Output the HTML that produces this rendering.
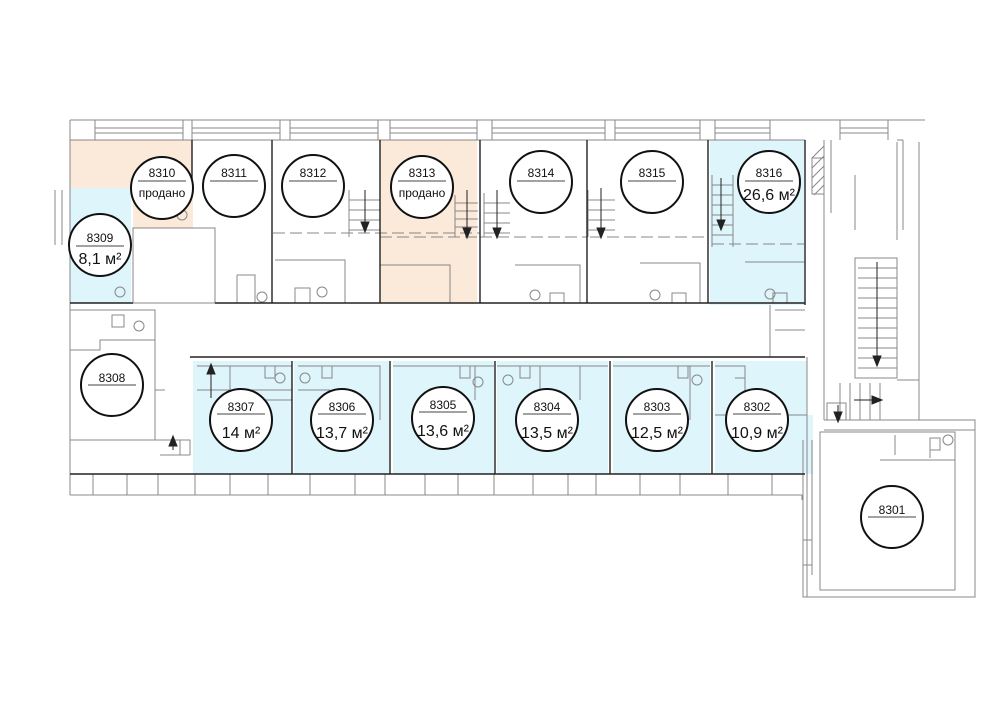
<!DOCTYPE html>
<html><head><meta charset="utf-8"><style>
html,body{margin:0;padding:0;background:#fff}
svg{display:block}
text{font-family:"Liberation Sans",sans-serif;fill:#111}
</style></head><body>
<svg width="1008" height="709" viewBox="0 0 1008 709" xmlns="http://www.w3.org/2000/svg">
<g stroke="none">
<rect x="70" y="140" width="122" height="48" fill="#fbe9d9"/>
<rect x="133" y="188" width="60" height="40" fill="#fbe9d9"/>
<rect x="70" y="188" width="61" height="115" fill="#ddf5fb"/>
<rect x="380" y="140" width="97" height="163" fill="#fbe9d9"/>
<rect x="710" y="140" width="94" height="165" fill="#ddf5fb"/>
<rect x="193" y="361" width="99" height="113" fill="#ddf5fb"/>
<rect x="294" y="361" width="95" height="113" fill="#ddf5fb"/>
<rect x="393" y="361" width="101" height="113" fill="#ddf5fb"/>
<rect x="497" y="361" width="111" height="113" fill="#ddf5fb"/>
<rect x="613" y="361" width="97" height="113" fill="#ddf5fb"/>
<rect x="715" y="361" width="92" height="113" fill="#ddf5fb"/>
<rect x="807" y="415" width="6" height="59" fill="#ddf5fb"/>
</g>
<g stroke="#888" stroke-width="1" fill="none">
<path d="M70 120H925M70 140H805M70 120V495M55 190V245M62 190V245"/>
<path d="M95 120V140M183 120V140M95 128H183M95 133H183"/>
<path d="M192 120V140M280 120V140M192 128H280M192 133H280"/>
<path d="M290 120V140M378 120V140M290 128H378M290 133H378"/>
<path d="M390 120V140M477 120V140M390 128H477M390 133H477"/>
<path d="M492 120V140M605 120V140M492 128H605M492 133H605"/>
<path d="M615 120V140M700 120V140M615 128H700M615 133H700"/>
<path d="M715 120V140M770 120V140M715 128H770M715 133H770"/>
<path d="M840 120V140M888 120V140M840 128H888M840 133H888"/>
<path d="M70 495H802M802 495V500"/>
<path d="M93 474V495M127 474V495M158 474V495M195 474V495M230 474V495M268 474V495M310 474V495M355 474V495M385 474V495M425 474V495M458 474V495M494 474V495M533 474V495M568 474V495M596 474V495M640 474V495M680 474V495M728 474V495M772 474V495"/>
<rect x="133" y="228" width="82" height="75"/>
<path d="M824 140V420M831 140V213M897 142V240M919 142V420H975V597H803V440M807 440V597M812 440V575M897 140H903M903 140V230"/>
<rect x="855" y="258" width="42" height="120"/>
<path d="M858 268H897M858 278H897M858 288H897M858 298H897M858 308H897M858 318H897M858 328H897M858 338H897M858 348H897M858 358H897M858 368H897"/>
<path d="M824 420H975M824 430H975M840 383V420M850 383V420M860 383V420M870 383V420M880 383V420M897 380H919"/>
<rect x="827" y="403" width="19" height="17"/>
<path d="M820 432H955V590H820ZM895 435V455M880 460H955M930 445V458"/>
<path d="M803 540H812M803 565H812"/>
<rect x="70" y="310" width="85" height="130"/>
<path d="M70 350H100V340H155M155 390H165M70 440H190V455M160 455H190"/>
<rect x="112" y="315" width="12" height="12"/>
<circle cx="139" cy="326" r="5"/>
<path d="M237 275H255V303M237 275V303M275 260H345V303M380 265H450V303M515 265H580V303M640 263H700V303M745 262H804"/>
<path d="M273 233H480M380 237H477M480 237H587M590 237H708M712 244H804" stroke-dasharray="12 5"/>
<path d="M349 190V237M349 200H380M349 210H380M349 220H380M349 230H380M455 195V237M455 203H478M455 211H478M455 219H478M455 227H478M484 193V237M484 203H510M484 213H510M484 223H510M484 233H510M588 190V237M588 200H615M588 210H615M588 220H615M588 230H615M712 175V247M712 185H733M712 195H733M712 205H733M712 215H733M712 225H733M712 235H733M733 175V247M855 175V230"/>
<circle cx="182" cy="215" r="5"/><circle cx="120" cy="292" r="5"/><circle cx="262" cy="297" r="5"/>
<circle cx="322" cy="292" r="5"/><circle cx="535" cy="295" r="5"/><circle cx="655" cy="295" r="5"/><circle cx="770" cy="294" r="5"/><circle cx="948" cy="440" r="5"/>
<rect x="295" y="288" width="15" height="15"/><rect x="550" y="293" width="14" height="10"/><rect x="672" y="293" width="14" height="10"/><rect x="773" y="293" width="14" height="10"/><rect x="930" y="438" width="10" height="12"/>
<path d="M197 366H292M197 390H292M230 366V430M230 400H292M298 366H380V420M298 390H330M393 366H494M475 366V400M497 366H608M540 366V420M580 366V400M613 366H710M690 366V420M715 366H745V400M735 378H745M807 357V474M715 415H807"/>
<circle cx="280" cy="378" r="5"/><circle cx="305" cy="378" r="5"/><circle cx="478" cy="382" r="5"/><circle cx="508" cy="380" r="5"/><circle cx="697" cy="380" r="5"/>
<rect x="265" y="366" width="10" height="12"/><rect x="322" y="366" width="10" height="12"/><rect x="460" y="366" width="10" height="12"/><rect x="520" y="366" width="10" height="12"/><rect x="678" y="366" width="10" height="12"/>
<path d="M155 440H180V455M770 305V357M775 310H805M775 330H805"/>
<path d="M812 158L824 146M812 168L824 156M812 178L824 166M812 188L824 176M814 195L824 185"/>
<rect x="812" y="158" width="12" height="36"/>
</g>
<g stroke="#222" stroke-width="1.4" fill="none">
<path d="M70 303H133M215 303H805M190 357H805M70 474H805"/>
<path d="M192 140V188M272 140V303M380 140V303M480 140V303M587 140V303M708 140V303M805 140V305"/>
<path d="M292 361V474M390 361V474M495 361V474M610 361V474M712 361V474"/>
</g>
<g fill="#222" stroke="#222" stroke-width="1">
<path d="M365 190V222"/><path d="M361 222L365 232L369 222Z"/>
<path d="M467 190V228"/><path d="M463 228L467 238L471 228Z"/>
<path d="M497 190V228"/><path d="M493 228L497 238L501 228Z"/>
<path d="M601 188V228"/><path d="M597 228L601 238L605 228Z"/>
<path d="M721 178V220"/><path d="M717 220L721 230L725 220Z"/>
<path d="M877 262V356"/><path d="M873 356L877 366L881 356Z"/>
<path d="M854 400H872"/><path d="M872 396L882 400L872 404Z"/>
<path d="M838 405V420"/><path d="M834 412L838 422L842 412Z"/>
<path d="M211 398V372"/><path d="M207 374L211 364L215 374Z"/>
<path d="M173 450V440"/><path d="M169 446L173 436L177 446Z"/>
</g>
<g stroke="#111" stroke-width="2" fill="#fff">
<circle cx="162" cy="188" r="31"/><circle cx="234" cy="186" r="31"/><circle cx="313" cy="186" r="31"/><circle cx="422" cy="187" r="31"/>
<circle cx="541" cy="182" r="31"/><circle cx="652" cy="182" r="31"/><circle cx="769" cy="182" r="31"/><circle cx="100" cy="245" r="31"/>
<circle cx="112" cy="385" r="31"/><circle cx="241" cy="420" r="31"/><circle cx="342" cy="420" r="31"/><circle cx="443" cy="418" r="31"/>
<circle cx="547" cy="420" r="31"/><circle cx="657" cy="420" r="31"/><circle cx="757" cy="420" r="31"/><circle cx="892" cy="517" r="31"/>
</g>
<g stroke="#444" stroke-width="1">
<path d="M138 181H186M210 181H258M289 181H337M398 181H446M517 181H565M628 181H676M745 181H793M76 246H124M88 385H136M217 414H265M318 414H366M419 412H467M523 414H571M633 414H681M733 414H781M868 517H916"/>
</g>
<g text-anchor="middle" font-size="12">
<text x="162" y="177">8310</text><text x="162" y="197">продано</text>
<text x="234" y="177">8311</text><text x="313" y="177">8312</text>
<text x="422" y="177">8313</text><text x="422" y="197">продано</text>
<text x="541" y="177">8314</text><text x="652" y="177">8315</text><text x="769" y="177">8316</text>
<text x="100" y="242">8309</text><text x="112" y="382">8308</text>
<text x="241" y="411">8307</text><text x="342" y="411">8306</text><text x="443" y="409">8305</text>
<text x="547" y="411">8304</text><text x="657" y="411">8303</text><text x="757" y="411">8302</text><text x="892" y="514">8301</text>
</g>
<g text-anchor="middle" font-size="16">
<text x="769" y="200">26,6 м²</text><text x="100" y="264">8,1 м²</text>
<text x="241" y="438">14 м²</text><text x="342" y="438">13,7 м²</text><text x="443" y="436">13,6 м²</text>
<text x="547" y="438">13,5 м²</text><text x="657" y="438">12,5 м²</text><text x="757" y="438">10,9 м²</text>
</g>
</svg>
</body></html>
